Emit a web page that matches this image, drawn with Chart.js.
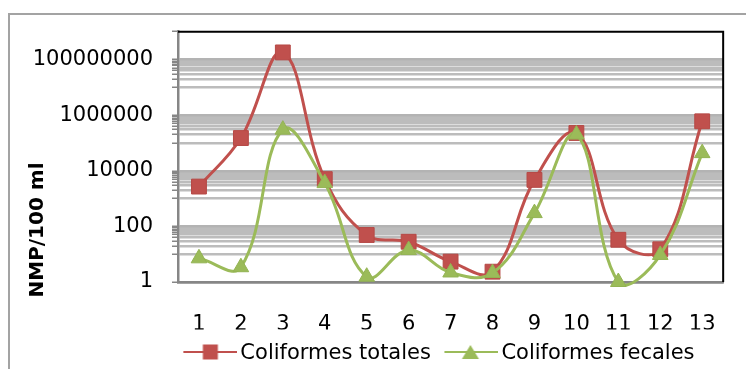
<!DOCTYPE html>
<html>
<head>
<meta charset="utf-8">
<script src="https://cdn.jsdelivr.net/npm/chart.js@4"></script>
<style>
  html, body { margin: 0; padding: 0; background: #fff; }
  #marco { position: relative; width: 746px; height: 369px; overflow: hidden; }
  #borde { position: absolute; left: 8px; top: 13px; width: 800px; height: 400px;
           border: 2px solid #a3a3a3; box-sizing: border-box; }
  #grafico { position: absolute; left: 0; top: 0; }
</style>
</head>
<body>
<div id="marco">
  <div id="borde"></div>
  <canvas id="grafico" width="746" height="369"></canvas>
</div>
<script>
const categorias = ['1', '2', '3', '4', '5', '6', '7', '8', '9', '10', '11', '12', '13'];
const coliformesTotales = [2700, 150000, 180000000, 5000, 49, 28, 5.4, 2.35, 4700, 228000, 33, 15, 600000];
const coliformesFecales = [7.1, 3.4, 300000, 3600, 1.55, 14, 2.2, 2.1, 300, 200000, 1, 9.4, 43000];
const nombresSeries = ['Coliformes totales', 'Coliformes fecales'];
const ticksMayores = [1, 100, 10000, 1000000, 100000000];
const etiquetasY = ['1', '100', '10000', '1000000', '100000000'];
const maximoY = 1000000000;
const tituloY = 'NMP/100 ml';

const fuente = 'DejaVu Sans';
const rojo = '#c0504d';
const verde = '#9bbb59';
const grisEje = '#868686';

// lineas de la cuadricula: cada mayor y la decada de debajo (excepto en 1)
const valoresGrid = [];
ticksMayores.forEach(m => {
  if (m > 1) {
    for (let k = 1; k <= 9; k++) valoresGrid.push(k * m / 10);
  }
  valoresGrid.push(m);
});
valoresGrid.push(maximoY);
valoresGrid.sort((a, b) => a - b);

function crearIcono(color, forma) {
  const c = document.createElement('canvas');
  c.width = 61;
  c.height = 20;
  const g = c.getContext('2d');
  g.strokeStyle = color;
  g.lineWidth = 2;
  g.beginPath();
  g.moveTo(7, 8);
  g.lineTo(61, 8);
  g.stroke();
  g.fillStyle = color;
  if (forma === 'rect') {
    g.fillRect(34 - 7.5, 8 - 7.5, 15, 15);
  } else {
    g.beginPath();
    g.moveTo(33, 1);
    g.lineTo(41.5, 15);
    g.lineTo(24.5, 15);
    g.closePath();
    g.fill();
  }
  return c;
}
const iconos = [crearIcono(rojo, 'rect'), crearIcono(verde, 'triangle')];

const marcoPlot = {
  id: 'marcoPlot',
  afterLayout(chart) {
    // la leyenda de Excel esta centrada sobre un area mas estrecha
    if (chart.legend) chart.legend.left = 137.4;
  },
  beforeDatasetsDraw(chart) {
    const {ctx, chartArea: a} = chart;
    ctx.save();
    ctx.strokeStyle = '#000';
    ctx.lineWidth = 2;
    ctx.beginPath();
    ctx.moveTo(a.left, a.top);
    ctx.lineTo(a.right, a.top);
    ctx.lineTo(a.right, a.bottom);
    ctx.stroke();
    ctx.restore();
  }
};

const tituloEje = {
  id: 'tituloEje',
  afterDraw(chart) {
    const ctx = chart.ctx;
    ctx.save();
    ctx.translate(38, 230);
    ctx.rotate(-Math.PI / 2);
    ctx.font = 'bold 20px "' + fuente + '"';
    ctx.fillStyle = '#000';
    ctx.textAlign = 'center';
    ctx.textBaseline = 'middle';
    ctx.fillText(tituloY, 0, 0);
    ctx.restore();
  }
};

const ctx = document.getElementById('grafico').getContext('2d');
const grafico = new Chart(ctx, {
  type: 'line',
  data: {
    labels: categorias,
    datasets: [{
      label: nombresSeries[0],
      data: coliformesTotales,
      borderColor: rojo,
      backgroundColor: rojo,
      borderWidth: 3,
      pointStyle: 'rect',
      pointRadius: 10.5,
      pointBorderWidth: 1,
      pointBorderColor: '#b64845',
      tension: 0.4,
      clip: false,
      order: 1
    }, {
      label: nombresSeries[1],
      data: coliformesFecales,
      borderColor: verde,
      backgroundColor: verde,
      borderWidth: 3,
      pointStyle: 'triangle',
      pointRadius: 9,
      pointBorderWidth: 1,
      pointBorderColor: '#93b353',
      tension: 0.4,
      clip: false,
      order: 0
    }]
  },
  options: {
    responsive: false,
    animation: false,
    devicePixelRatio: 1,
    layout: { padding: { left: 0, right: 5, top: 31.7, bottom: 0 } },
    elements: { line: { capBezierPoints: false } },
    plugins: {
      tooltip: { enabled: false },
      legend: {
        position: 'bottom',
        maxHeight: 39.5,
        labels: {
          usePointStyle: true,
          pointStyleWidth: 46,
          padding: 14,
          color: '#000',
          font: { family: fuente, size: 21 },
          generateLabels: (chart) => chart.data.datasets.map((ds, i) => ({
            text: ds.label,
            pointStyle: iconos[i],
            fillStyle: ds.borderColor,
            strokeStyle: ds.borderColor,
            lineWidth: 0,
            hidden: false,
            datasetIndex: i
          }))
        }
      }
    },
    scales: {
      x: {
        offset: true,
        grid: { display: false, drawTicks: false },
        border: { display: true, color: grisEje, width: 2.5 },
        ticks: {
          padding: 30,
          color: '#000',
          autoSkip: false,
          maxRotation: 0,
          font: { family: fuente, size: 21 }
        },
        afterFit: (scale) => { scale.height = 47.5; }
      },
      y: {
        type: 'logarithmic',
        min: 1,
        max: maximoY,
        afterBuildTicks: (scale) => {
          scale.ticks = valoresGrid.map(v => ({ value: v }));
        },
        afterFit: (scale) => { scale.width = 178; },
        border: { color: grisEje, width: 2.5 },
        grid: {
          color: (c) => {
            const v = c.tick ? c.tick.value : 0;
            if (v === 1) return grisEje;
            if (v === maximoY) return 'rgba(0,0,0,0)';
            return ticksMayores.includes(v) ? '#b3b3b3' : '#bcbcbc';
          },
          lineWidth: 2.5,
          tickLength: 6,
          tickColor: grisEje,
          tickWidth: 1.5
        },
        ticks: {
          autoSkip: false,
          padding: 19,
          color: '#000',
          font: { family: fuente, size: 21 },
          callback: (v) => {
            const i = ticksMayores.indexOf(v);
            return i >= 0 ? etiquetasY[i] : '';
          }
        }
      }
    }
  },
  plugins: [marcoPlot, tituloEje]
});
</script>
</body>
</html>
